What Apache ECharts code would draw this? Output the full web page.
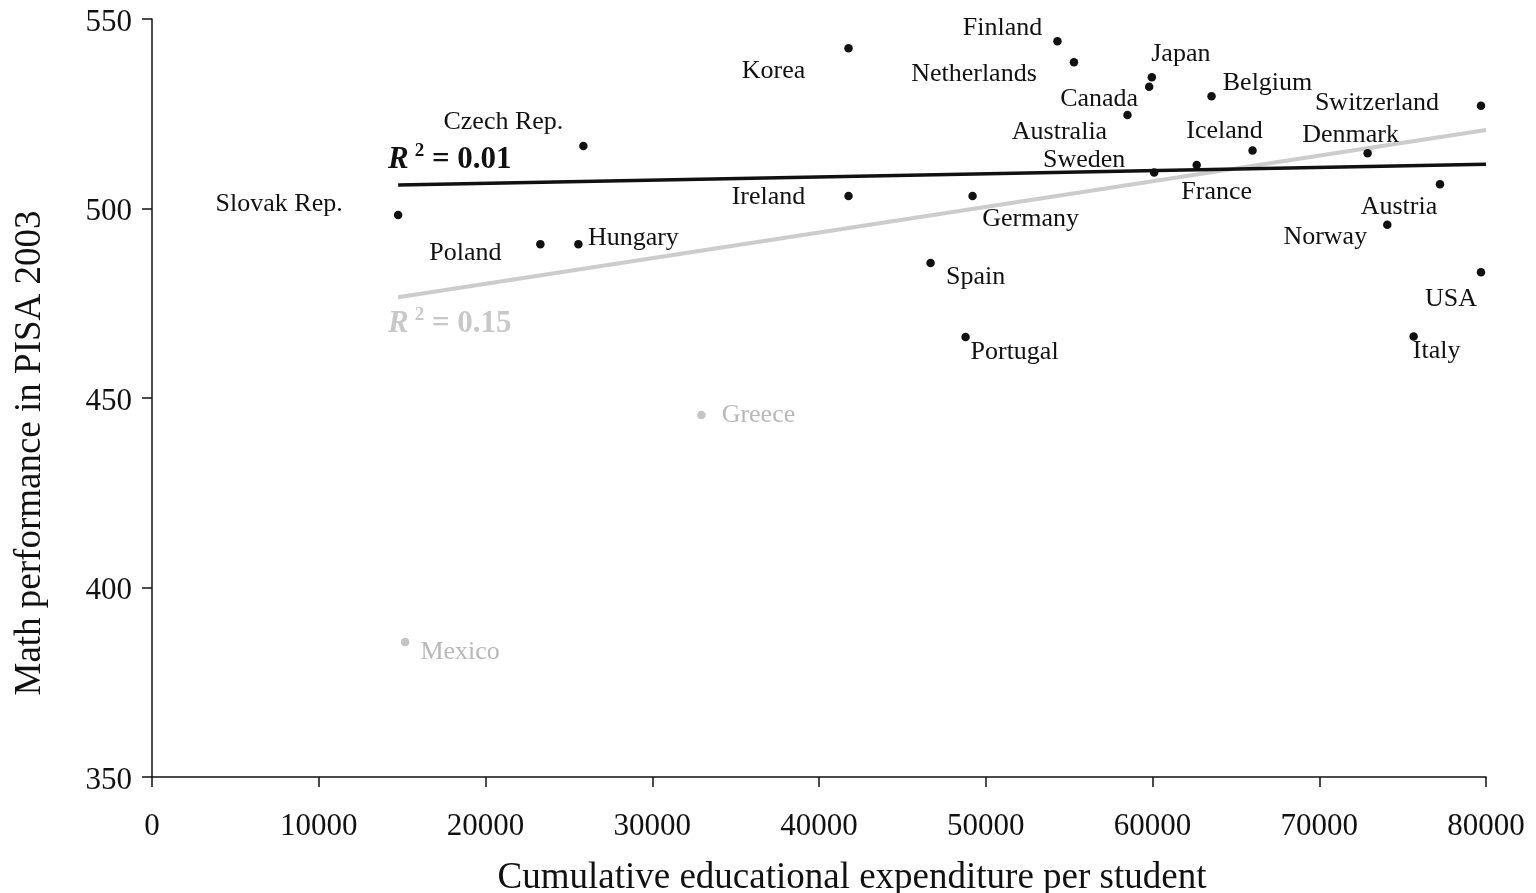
<!DOCTYPE html>
<html>
<head>
<meta charset="utf-8">
<script src="https://cdn.jsdelivr.net/npm/echarts@6/dist/echarts.min.js"></script>
<style>
html,body{margin:0;padding:0;background:#fff;}
#chart{width:1536px;height:893px;}
</style>
</head>
<body>
<div id="chart"></div>
<script>
// Main OECD countries
const countries = ['Slovak Rep.','Poland','Hungary','Czech Rep.','Korea','Ireland','Spain','Portugal','Germany',
  'Finland','Netherlands','Japan','Canada','Belgium','Australia','Iceland','France','Sweden',
  'Denmark','Switzerland','Austria','Norway','USA','Italy'];
const expenditure = [14760,23290,25570,25870,41770,41770,46690,48790,49210,
  54300,55290,59960,59800,63540,58500,66000,62650,60100,
  72900,79700,77240,74080,79700,75660];
const mathScore = [498.3,490.6,490.6,516.5,542.3,503.3,485.6,466.1,503.3,
  544.1,538.6,534.6,532.1,529.6,524.7,515.3,511.5,509.5,
  514.6,527.1,506.4,495.7,483.2,466.2];
// Outlier countries (grey)
const outlierCountries = ['Greece','Mexico'];
const outlierExpenditure = [32950,15180];
const outlierScore = [445.5,385.6];
// Regression lines
const trendX = [14760, 80000];
const trendWithoutOutliers = [506.2, 511.7]; // R^2 = 0.01
const trendWithOutliers = [476.6, 520.7];    // R^2 = 0.15
const xTicks = [0,10000,20000,30000,40000,50000,60000,70000,80000];
const yTicks = [350,400,450,500,550];

// label placement (pixel offsets from point centre)
const labelOffset = {
  'Slovak Rep.':[-119,-11],'Poland':[-75,9],'Hungary':[55,-6],'Czech Rep.':[-80,-24],
  'Korea':[-75,23],'Ireland':[-80,1],'Spain':[45,14],'Portugal':[49,15],'Germany':[58,23],
  'Finland':[-55,-13],'Netherlands':[-100,12],'Japan':[29,-23],'Canada':[-50,12],
  'Belgium':[56,-13],'Australia':[-68,17],'Iceland':[-28,-19],'Sweden':[-70,-12],
  'France':[20,27],'Denmark':[-17,-18],'Switzerland':[-104,-3],'Austria':[-41,23],
  'Norway':[-62,12],'USA':[-30,27],'Italy':[23,15],'Greece':[57,0],'Mexico':[55,10]
};

const FONT = 'Liberation Serif';
const chart = echarts.init(document.getElementById('chart'));

function pts(names, xs, ys){
  return names.map((n,i)=>({name:n, value:[xs[i], ys[i]],
    label:{offset:labelOffset[n]}}));
}

function r2Text(val, color, top){
  return {
    type:'text', left:388, top:top, z:10,
    style:{
      text:'{r|R}{s|2}{t| = ' + val + '}',
      rich:{
        r:{fontFamily:FONT, fontSize:31, fontWeight:'bold', fontStyle:'italic', fill:color, verticalAlign:'bottom'},
        s:{fontFamily:FONT, fontSize:19, fontWeight:'bold', fill:color, verticalAlign:'bottom', padding:[0,0,14,6]},
        t:{fontFamily:FONT, fontSize:31, fontWeight:'bold', fill:color, verticalAlign:'bottom'}
      }
    }
  };
}

const option = {
  animation:false,
  backgroundColor:'#fff',
  grid:{left:152, right:50, top:19, bottom:116, outerBoundsMode:'none', containLabel:false},
  xAxis:{
    type:'value', min:0, max:80000, interval:10000,
    name:'Cumulative educational expenditure per student',
    nameLocation:'middle', nameGap:83,
    nameTextStyle:{fontFamily:FONT, fontSize:37, color:'#111', padding:[0,0,0,66]},
    axisLine:{show:true, lineStyle:{color:'#111', width:1.5}},
    axisTick:{show:true, length:10, lineStyle:{color:'#111', width:1.5}},
    axisLabel:{fontFamily:FONT, fontSize:31, color:'#111', margin:34,
      customValues:xTicks, formatter:v=>String(v)},
    splitLine:{show:false}
  },
  yAxis:{
    type:'value', min:350, max:550, interval:50,
    name:'Math performance in PISA 2003',
    nameLocation:'middle', nameGap:103,
    nameTextStyle:{fontFamily:FONT, fontSize:37, color:'#111', padding:[0,110,0,0]},
    axisLine:{show:true, lineStyle:{color:'#111', width:1.5}},
    axisTick:{show:true, length:10, lineStyle:{color:'#111', width:1.5}},
    axisLabel:{fontFamily:FONT, fontSize:31, color:'#111', margin:20,
      customValues:yTicks, formatter:v=>'{a|' + v + '}',
      rich:{a:{fontFamily:FONT, fontSize:31, color:'#111', padding:[7,0,0,0]}}},
    splitLine:{show:false}
  },
  series:[
    {
      name:'Trend incl. Greece and Mexico', type:'line',
      data:trendX.map((x,i)=>[x, trendWithOutliers[i]]),
      symbol:'none', lineStyle:{color:'#cccccc', width:4}, z:2
    },
    {
      name:'Trend excl. Greece and Mexico', type:'line',
      data:trendX.map((x,i)=>[x, trendWithoutOutliers[i]]),
      symbol:'none', lineStyle:{color:'#111111', width:3.5}, z:3
    },
    {
      name:'Countries', type:'scatter', symbolSize:8.5,
      itemStyle:{color:'#111', opacity:1},
      data:pts(countries, expenditure, mathScore),
      label:{show:true, position:'inside', formatter:'{b}', fontFamily:FONT, fontSize:26, color:'#111'},
      z:5
    },
    {
      name:'Outliers', type:'scatter', symbolSize:8.5,
      itemStyle:{color:'#c4c4c4', opacity:1},
      data:pts(outlierCountries, outlierExpenditure, outlierScore),
      label:{show:true, position:'inside', formatter:'{b}', fontFamily:FONT, fontSize:26, color:'#b8b8b8'},
      z:5
    }
  ],
  graphic:[
    r2Text('0.01', '#111', 142),
    r2Text('0.15', '#c8c8c8', 306)
  ]
};
chart.setOption(option);
</script>
</body>
</html>
